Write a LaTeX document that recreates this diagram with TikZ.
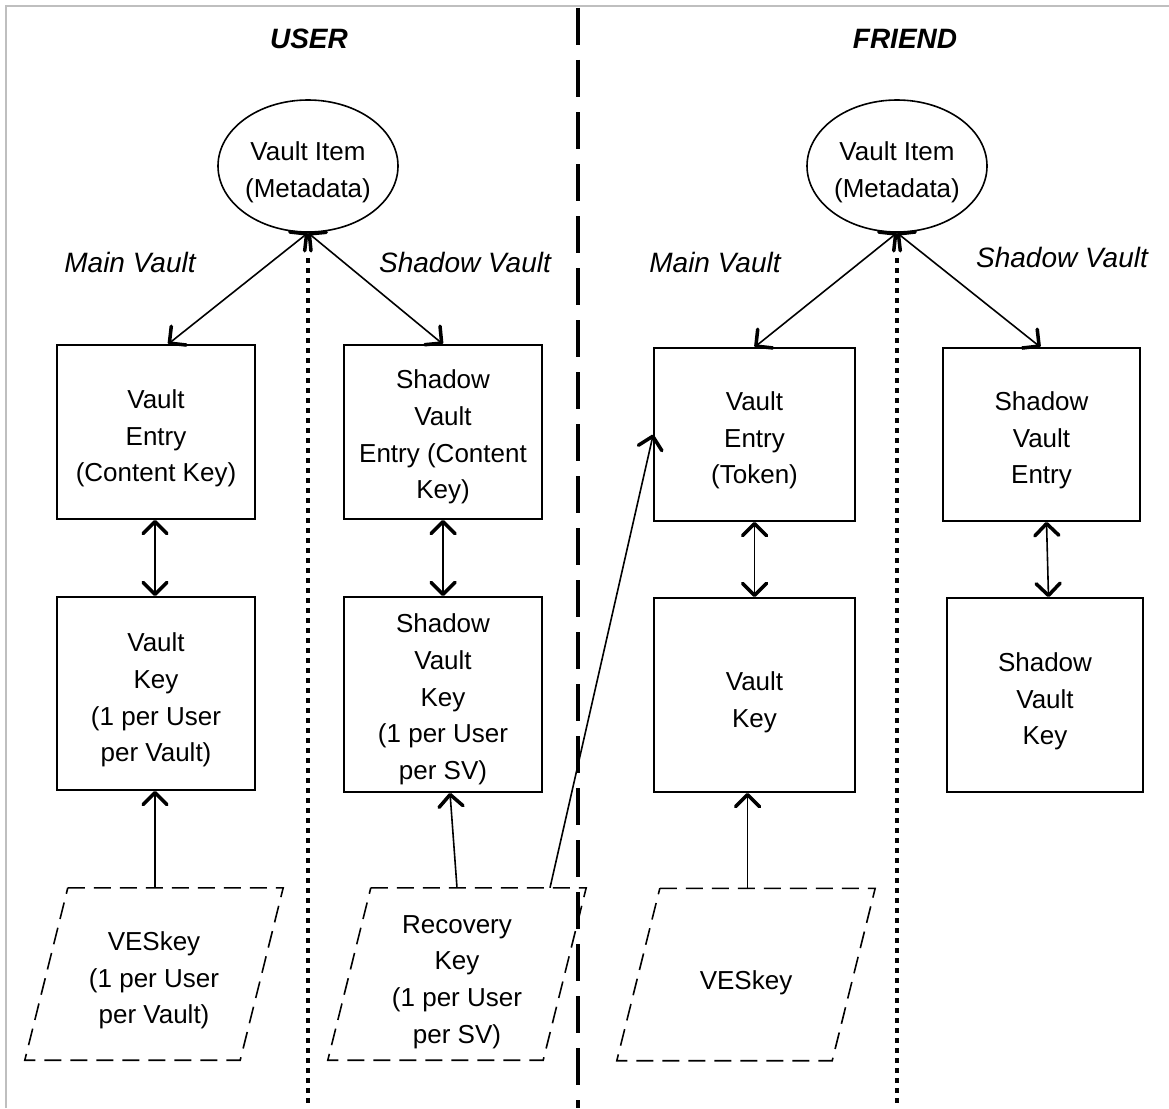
\documentclass[tikz,border=0pt]{standalone}
\usepackage{fontspec}
\setmainfont{Liberation Sans}
\usetikzlibrary{arrows.meta,shapes.geometric}
\tikzset{vtip/.tip={Straight Barb[length=12pt,width=24pt,line width=0pt 2.2,round]}}
\begin{document}
\begin{tikzpicture}[x=1pt,y=-1pt,
  txt/.style={font=\fontsize{26}{36.7}\selectfont,inner sep=0pt,align=center},
  box/.style={draw,line width=1.6pt,minimum width=198pt,inner sep=0pt},
  oval/.style={draw,ellipse,line width=1.6pt,minimum width=180pt,minimum height=132pt,inner sep=0pt},
  para/.style={minimum width=215pt,minimum height=172pt,inner sep=0pt},
  paraline/.style={draw,line width=1.6pt,dash pattern=on 17pt off 9pt},
  conn/.style={line width=1.6pt},
  both/.style={conn,arrows={vtip-vtip}},
  single/.style={conn,arrows={-vtip}},
  lab/.style={font=\fontsize{28}{32}\selectfont\itshape},
  ttl/.style={font=\fontsize{28}{32}\selectfont\bfseries\itshape}]
\useasboundingbox (0,0) rectangle (1169,1108);
% frame
\draw[black!25,line width=2pt] (6,1108) -- (6,6) -- (1169,6);
% titles
\node[ttl] (tuser) at (309,39) {USER};
\node[ttl] (tfriend) at (905,39) {FRIEND};
% separators
\coordinate (divtop) at (578,8);
\coordinate (divbot) at (578,1108);
\draw[line width=4.5pt,dash pattern=on 37pt off 15pt] (divtop) -- (divbot);
\coordinate (d1top) at (308,258);
\coordinate (d1bot) at (308,1108);
\coordinate (d2top) at (897,258);
\coordinate (d2bot) at (897,1108);
\draw[line width=4pt,dash pattern=on 4.5pt off 5.5pt] (d1top) -- (d1bot);
\draw[line width=4pt,dash pattern=on 4.5pt off 5.5pt] (d2top) -- (d2bot);
% USER side
\node[oval] (vi1) at (308,166) {};
\node[txt] (vi1t) at ([yshift=-6.5pt]vi1.center) {Vault Item\\(Metadata)};
\node[lab] (mv1) at (130,262) {Main Vault};
\node[lab] (sv1) at (465,262) {Shadow Vault};
\node[box,minimum height=174pt] (ve1) at (156,432) {};
\node[txt] (ve1t) at ([yshift=-6.5pt]ve1.center) {Vault\\Entry\\(Content Key)};
\node[box,minimum height=174pt] (sve1) at (443,432) {};
\node[txt] (sve1t) at ([yshift=-5pt]sve1.center) {Shadow\\Vault\\Entry (Content\\Key)};
\node[box,minimum height=193pt] (vk1) at (156,693.5) {};
\node[txt] (vk1t) at ([yshift=-6.5pt]vk1.center) {Vault\\Key\\(1 per User\\per Vault)};
\node[box,minimum height=195pt] (svk1) at (443,694.5) {};
\node[txt] (svk1t) at ([yshift=-5pt]svk1.center) {Shadow\\Vault\\Key\\(1 per User\\per SV)};
\node[para] (ves1) at (154,974) {};
\node[txt] (ves1t) at ([yshift=-6.5pt]ves1.center) {VESkey\\(1 per User\\per Vault)};
\node[para] (rk1) at (457,974) {};
\node[txt] (rk1t) at ([yshift=-8pt]rk1.center) {Recovery\\Key\\(1 per User\\per SV)};
% FRIEND side
\node[oval] (vi2) at (897,166) {};
\node[txt] (vi2t) at ([yshift=-6.5pt]vi2.center) {Vault Item\\(Metadata)};
\node[lab] (mv2) at (715,262) {Main Vault};
\node[lab] (sv2) at (1062,257) {Shadow Vault};
\node[box,minimum width=201pt,minimum height=173pt] (ve2) at (754.5,434.5) {};
\node[txt] (ve2t) at ([yshift=-6pt]ve2.center) {Vault\\Entry\\(Token)};
\node[box,minimum width=197pt,minimum height=173pt] (sve2) at (1041.5,434.5) {};
\node[txt] (sve2t) at ([yshift=-6pt]sve2.center) {Shadow\\Vault\\Entry};
\node[box,minimum width=201pt,minimum height=194pt] (vk2) at (754.5,695) {};
\node[txt] (vk2t) at ([yshift=-7pt]vk2.center) {Vault\\Key};
\node[box,minimum width=196pt,minimum height=194pt] (svk2) at (1045,695) {};
\node[txt] (svk2t) at ([yshift=-6.5pt]svk2.center) {Shadow\\Vault\\Key};
\node[para] (ves2) at (746,974.5) {};
\node[txt] (ves2t) at ([yshift=-8pt]ves2.center) {VESkey};
% parallelogram outlines
\foreach \n in {ves1,rk1,ves2}{
  \draw[paraline] ([xshift=21.5pt]\n.north west) -- ([xshift=21.5pt]\n.north east)
    -- ([xshift=-21.5pt]\n.south east) -- ([xshift=-21.5pt]\n.south west) -- cycle;
}
% connectors USER
\draw[both] (vi1.south) -- ([xshift=12pt]ve1.north);
\draw[both] (vi1.south) -- (sve1.north);
\draw[both] ([xshift=-1pt]ve1.south) -- ([xshift=-1pt]vk1.north);
\draw[both] (sve1.south) -- (svk1.north);
\draw[single] ([xshift=1pt]ves1.north) -- ([xshift=-1pt]vk1.south);
\draw[single] (rk1.north) -- ([xshift=7pt]svk1.south);
\draw[single] ([xshift=93pt]rk1.north) -- (ve2.west);
% connectors FRIEND
\draw[both] (vi2.south) -- (ve2.north);
\draw[both] (vi2.south) -- ([xshift=-1pt]sve2.north);
\draw[both] (ve2.south) -- (vk2.north);
\draw[both] ([xshift=5pt]sve2.south) -- ([xshift=3.5pt]svk2.north);
\draw[single] ([xshift=1.5pt]ves2.north) -- ([xshift=1.5pt]ves2.north |- vk2.south);
\end{tikzpicture}
\end{document}
